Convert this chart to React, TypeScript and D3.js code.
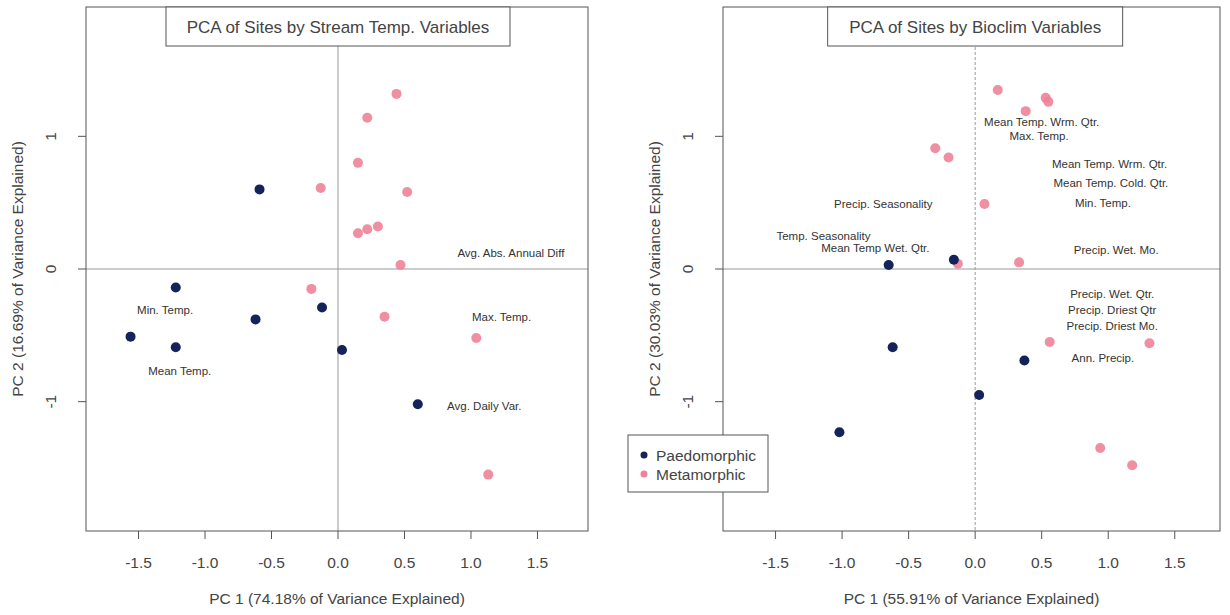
import React from "react";
import * as d3 from "d3";

// ---------- data ----------
const xTicks = [-1.5, -1.0, -0.5, 0.0, 0.5, 1.0, 1.5];
const yTicks = [-1, 0, 1];

const leftTitle = "PCA of Sites by Stream Temp. Variables";
const leftXLabel = "PC 1 (74.18% of Variance Explained)";
const leftYLabel = "PC 2 (16.69% of Variance Explained)";
const rightTitle = "PCA of Sites by Bioclim Variables";
const rightXLabel = "PC 1 (55.91% of Variance Explained)";
const rightYLabel = "PC 2 (30.03% of Variance Explained)";

const legendLabels = ["Paedomorphic", "Metamorphic"];

// left panel points [PC1, PC2]
const leftPaedo: [number, number][] = [
  [-0.59, 0.6], [-1.22, -0.14], [-0.12, -0.29], [-0.62, -0.38],
  [-1.56, -0.51], [-1.22, -0.59], [0.03, -0.61], [0.6, -1.02],
];
const leftMeta: [number, number][] = [
  [0.44, 1.32], [0.22, 1.14], [0.15, 0.8], [-0.13, 0.61], [0.52, 0.58],
  [0.15, 0.27], [0.22, 0.3], [0.3, 0.32], [0.47, 0.03], [-0.2, -0.15],
  [0.35, -0.36], [1.04, -0.52], [1.13, -1.55],
];
const leftLabels: [string, number, number][] = [
  ["Avg. Abs. Annual Diff", 1.3, 0.12],
  ["Min. Temp.", -1.3, -0.31],
  ["Max. Temp.", 1.23, -0.36],
  ["Mean Temp.", -1.19, -0.77],
  ["Avg. Daily Var.", 1.1, -1.03],
];

// right panel points [PC1, PC2]
const rightPaedo: [number, number][] = [
  [-0.65, 0.03], [-0.16, 0.07], [-0.62, -0.59], [0.37, -0.69],
  [0.03, -0.95], [-1.02, -1.23],
];
const rightMeta: [number, number][] = [
  [0.17, 1.35], [0.53, 1.29], [0.55, 1.26], [0.38, 1.19], [-0.3, 0.91],
  [-0.2, 0.84], [0.07, 0.49], [-0.13, 0.04], [0.33, 0.05], [0.56, -0.55],
  [1.31, -0.56], [0.94, -1.35], [1.18, -1.48],
];
const rightLabels: [string, number, number][] = [
  ["Mean Temp. Wrm. Qtr.", 0.5, 1.11],
  ["Max. Temp.", 0.48, 1.0],
  ["Mean Temp. Wrm. Qtr.", 1.01, 0.79],
  ["Mean Temp. Cold. Qtr.", 1.02, 0.65],
  ["Min. Temp.", 0.96, 0.5],
  ["Precip. Seasonality", -0.69, 0.49],
  ["Temp. Seasonality", -1.14, 0.25],
  ["Mean Temp Wet. Qtr.", -0.75, 0.16],
  ["Precip. Wet. Mo.", 1.06, 0.14],
  ["Precip. Wet. Qtr.", 1.03, -0.19],
  ["Precip. Driest Qtr", 1.03, -0.31],
  ["Precip. Driest Mo.", 1.03, -0.43],
  ["Ann. Precip.", 0.96, -0.67],
];

// ---------- style ----------
const FONT = "'Liberation Sans', Arial, Helvetica, sans-serif";
const NAVY = "#14235a";
const PINK = "#ee8298";
const AXIS = "#555";
const TEXT = "#444";

type PanelProps = {
  left: number; right: number; top: number; bottom: number;
  xDomain: [number, number];
  title: string; titleW: number; xLabel: string; yLabel: string;
  paedo: [number, number][]; meta: [number, number][];
  labels: [string, number, number][];
  dottedV?: boolean;
};

function Panel(p: PanelProps) {
  const x = d3.scaleLinear().domain(p.xDomain).range([p.left, p.right]);
  const y = d3.scaleLinear().domain([-1.975, 1.975]).range([p.bottom, p.top]);
  const cx = x(0);
  const midY = (p.top + p.bottom) / 2;
  return (
    <g fontFamily={FONT}>
      {/* zero lines */}
      <line x1={p.left} x2={p.right} y1={y(0)} y2={y(0)} stroke="#999" strokeWidth={1} />
      <line x1={cx} x2={cx} y1={p.top} y2={p.bottom} stroke="#999" strokeWidth={1}
        strokeDasharray={p.dottedV ? "3,2" : undefined} />
      {/* labels */}
      {p.labels.map(([t, lx, ly], i) => (
        <text key={"l" + i} x={x(lx)} y={y(ly)} textAnchor="middle" dominantBaseline="central"
          fontSize={11.5} fill="#333">{t}</text>
      ))}
      {/* points */}
      {p.meta.map(([a, b], i) => (
        <circle key={"m" + i} cx={x(a)} cy={y(b)} r={5} fill={PINK} opacity={0.9} />
      ))}
      {p.paedo.map(([a, b], i) => (
        <circle key={"p" + i} cx={x(a)} cy={y(b)} r={5} fill={NAVY} />
      ))}
      {/* box */}
      <rect x={p.left} y={p.top} width={p.right - p.left} height={p.bottom - p.top}
        fill="none" stroke={AXIS} strokeWidth={1} />
      {/* title box */}
      <rect x={cx - p.titleW / 2} y={p.top} width={p.titleW} height={39} fill="#fff"
        stroke={AXIS} strokeWidth={1} />
      <text x={cx} y={p.top + 20} textAnchor="middle" dominantBaseline="central"
        fontSize={17} fill={TEXT}>{p.title}</text>
      {/* x axis */}
      {xTicks.map((t) => (
        <g key={"xt" + t}>
          <line x1={x(t)} x2={x(t)} y1={p.bottom} y2={p.bottom + 8} stroke={AXIS} />
          <text x={x(t)} y={p.bottom + 31} textAnchor="middle" dominantBaseline="central"
            fontSize={15.5} fill={TEXT}>{t.toFixed(1)}</text>
        </g>
      ))}
      {/* y axis */}
      {yTicks.map((t) => (
        <g key={"yt" + t}>
          <line x1={p.left - 8} x2={p.left} y1={y(t)} y2={y(t)} stroke={AXIS} />
          <text transform={`translate(${p.left - 36},${y(t)}) rotate(-90)`} textAnchor="middle"
            dominantBaseline="central" fontSize={15.5} fill={TEXT}>{String(t)}</text>
        </g>
      ))}
      <text x={(p.left + p.right) / 2 - 0} y={598} textAnchor="middle" dominantBaseline="central"
        fontSize={15.5} fill={TEXT}>{p.xLabel}</text>
      <text transform={`translate(${p.left - 69},${midY}) rotate(-90)`} textAnchor="middle"
        dominantBaseline="central" fontSize={15.5} fill={TEXT}>{p.yLabel}</text>
    </g>
  );
}

export default function App() {
  return (
    <svg width={1230} height={615} style={{ position: "absolute", left: 0, top: 0, background: "#fff" }}>
      <rect width={1230} height={615} fill="#fff" />
      <Panel left={86} right={588} top={7} bottom={531} xDomain={[-1.895, 1.88]}
        title={leftTitle} titleW={344} xLabel={leftXLabel} yLabel={leftYLabel}
        paedo={leftPaedo} meta={leftMeta} labels={leftLabels} />
      <Panel left={723} right={1220} top={7} bottom={531} xDomain={[-1.895, 1.84]}
        title={rightTitle} titleW={295} xLabel={rightXLabel} yLabel={rightYLabel}
        paedo={rightPaedo} meta={rightMeta} labels={rightLabels} dottedV />
      {/* legend */}
      <g fontFamily={FONT}>
        <rect x={628} y={435} width={140} height={57} fill="#fff" stroke={AXIS} />
        {legendLabels.map((l, i) => (
          <g key={l}>
            <circle cx={644} cy={455 + i * 19} r={3.5} fill={i === 0 ? NAVY : PINK} />
            <text x={656} y={455 + i * 19} dominantBaseline="central" fontSize={15.5} fill={TEXT}>{l}</text>
          </g>
        ))}
      </g>
    </svg>
  );
}
